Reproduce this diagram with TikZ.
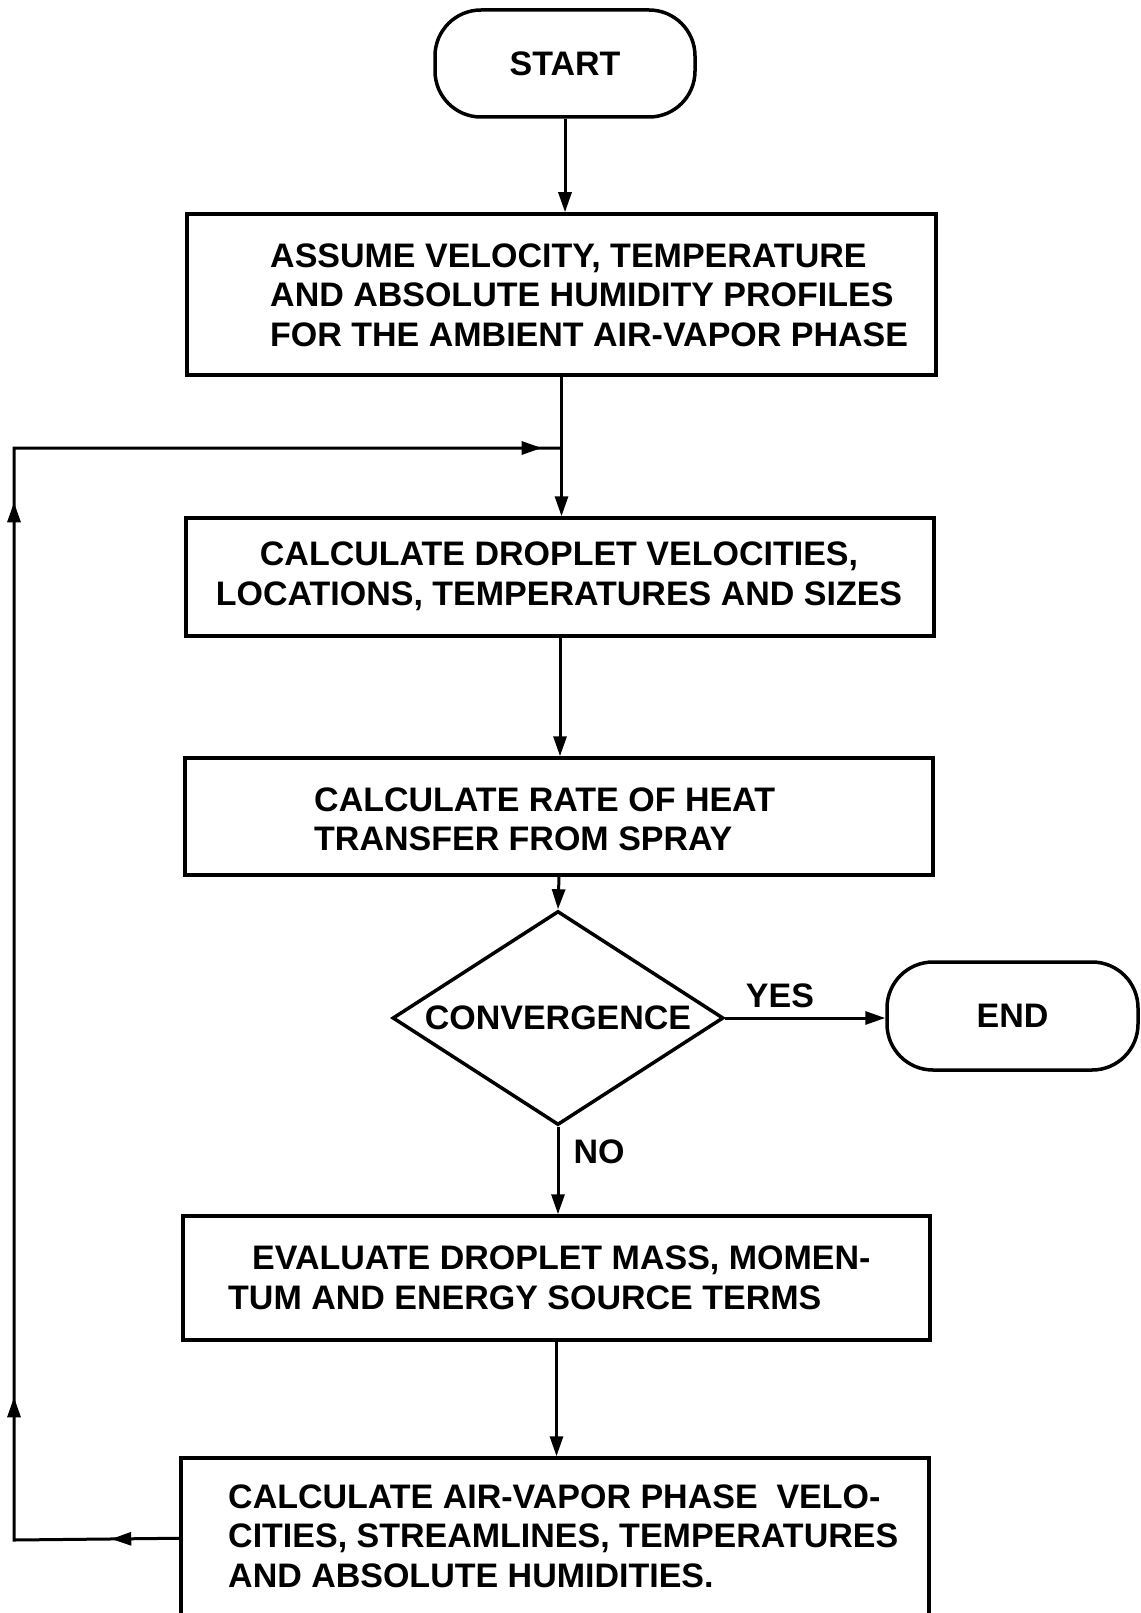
\documentclass[tikz,border=0pt]{standalone}
\usepackage{fontspec}
\setmainfont{Liberation Sans}
\usetikzlibrary{shapes.geometric,arrows.meta,decorations.markings,calc}
\begin{document}
\begin{tikzpicture}[x=1pt,y=-1pt,
  >={Triangle[length=20pt,width=13pt]},
  box/.style={draw, rectangle, inner sep=0pt, line width=3.5pt},
  term/.style={draw, rectangle, rounded corners=46pt, inner sep=0pt, line width=3.5pt},
  lbl/.style={font=\fontsize{34}{39.5}\selectfont\bfseries, inner sep=0pt},
  conn/.style={line width=3pt, ->},
  loopline/.style={line width=3pt, line join=miter}]
\fill[white] (0,0) rectangle (1140,1613);
\useasboundingbox (0,0) rectangle (1140,1613);
\clip (0,0) rectangle (1140,1613);

% nodes
\node[term, lbl, minimum width=260pt, minimum height=107pt] (start) at (565,63.5) {START};
\node[box, minimum width=749pt, minimum height=161pt] (b1) at (561.5,294.5) {};
\node[lbl, anchor=west, align=left] (t1) at (270,295) {ASSUME VELOCITY, TEMPERATURE\\AND ABSOLUTE HUMIDITY PROFILES\\FOR THE AMBIENT AIR-VAPOR PHASE};
\node[box, minimum width=748pt, minimum height=118pt] (b2) at (560,577) {};
\node[lbl, align=center] (t2) at (559,576.5) {CALCULATE DROPLET VELOCITIES,\\LOCATIONS, TEMPERATURES AND SIZES};
\node[box, minimum width=748pt, minimum height=117pt] (b3) at (559,816.5) {};
\node[lbl, anchor=west, align=left] (t3) at (314,819.5) {CALCULATE RATE OF HEAT\\TRANSFER FROM SPRAY};
\node[diamond, draw, lbl, aspect=1.55, minimum width=331pt, minimum height=214pt, inner sep=0pt, line width=3.5pt] (dia) at (558,1018) {CONVERGENCE};
\node[term, lbl, minimum width=251pt, minimum height=108pt] (end) at (1012.5,1016) {END};
\node[lbl] (yes) at (780,996) {YES};
\node[lbl] (no) at (599,1152) {NO};
\node[box, minimum width=747pt, minimum height=124pt] (b4) at (556.5,1278) {};
\node[lbl, anchor=west, align=left] (t4) at (228,1278) {\hspace*{24pt}EVALUATE DROPLET MASS, MOMEN-\\TUM AND ENERGY SOURCE TERMS};
\node[box, minimum width=748pt, minimum height=200pt] (b5) at (555,1558) {};
\node[lbl, anchor=west, align=left] (t5) at (228,1536) {CALCULATE AIR-VAPOR PHASE\ \ VELO-\\CITIES, STREAMLINES, TEMPERATURES\\AND ABSOLUTE HUMIDITIES.};

% connectors
\coordinate (J) at (561,448);
\coordinate (L0) at ($(b5.north west)+(0,82)$);
\coordinate (C1) at (14,1540);
\coordinate (C2) at (14,448);
\draw[conn] (start.south) -- (start.south |- b1.north);
\draw[conn] (b1.south) -- (b1.south |- b2.north);
\draw[conn] (b2.south) -- (b2.south |- b3.north);
\draw[conn] (b3.south) -- (dia.north);
\draw[conn] (dia.east) -- (dia.east -| end.west);
\draw[conn] (dia.south) -- (dia.south |- b4.north);
\draw[conn] (b4.south) -- (b4.south |- b5.north);
\draw[loopline, postaction={decorate}, decoration={markings,
   mark=at position 68pt with {\arrow{>}},
   mark=at position 308pt with {\arrow{>}},
   mark=at position 1203pt with {\arrow{>}},
   mark=at position 1785pt with {\arrow{>}}}]
   (L0) -- (C1) -- (C2) -- (J);
\end{tikzpicture}
\end{document}
